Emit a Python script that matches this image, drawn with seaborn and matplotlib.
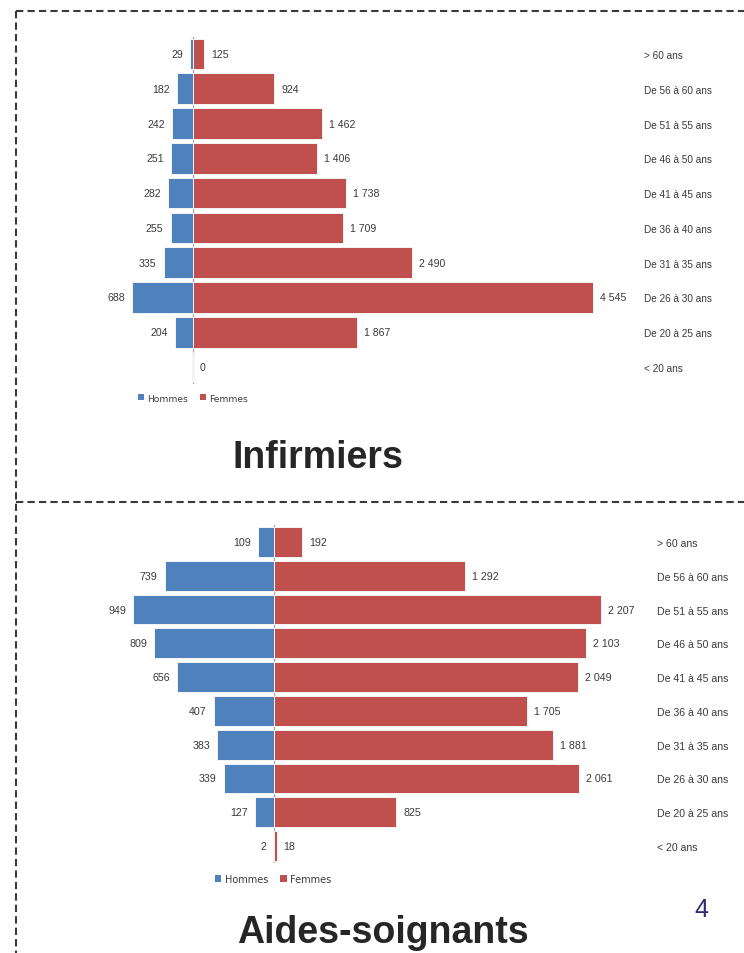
import numpy as np
import pandas as pd
import matplotlib
matplotlib.use("Agg")
import matplotlib.pyplot as plt
from matplotlib.lines import Line2D
from matplotlib.patches import Patch
import seaborn as sns

# ---------------- data ----------------
ages = ["> 60 ans", "De 56 à 60 ans", "De 51 à 55 ans", "De 46 à 50 ans",
        "De 41 à 45 ans", "De 36 à 40 ans", "De 31 à 35 ans", "De 26 à 30 ans",
        "De 20 à 25 ans", "< 20 ans"]
sexes = ["Hommes", "Femmes"]

inf_hommes = [29, 182, 242, 251, 282, 255, 335, 688, 204, None]
inf_femmes = [125, 924, 1462, 1406, 1738, 1709, 2490, 4545, 1867, 0]

as_hommes = [109, 739, 949, 809, 656, 407, 383, 339, 127, 2]
as_femmes = [192, 1292, 2207, 2103, 2049, 1705, 1881, 2061, 825, 18]

titles = ["Infirmiers", "Aides-soignants"]
page_number = "4"

BLUE = "#4F81BD"
RED = "#C0504D"
TXT = "#3a3a3a"

W, H = 744, 954
sns.set_theme(style="white")
plt.rcParams["font.family"] = ["Liberation Sans", "DejaVu Sans"]

fig = plt.figure(figsize=(W / 100, H / 100), dpi=100)


def fig_ax(l, t, r, b):
    return fig.add_axes([l / W, 1 - b / H, (r - l) / W, (b - t) / H])


def fmt(v):
    if v is None:
        return ""
    return f"{int(v):,}".replace(",", " ")


def pyramid(ax, hommes, femmes, xlim, tick_fs, val_fs):
    df = pd.DataFrame({
        "age": ages * 2,
        "sexe": ["Hommes"] * len(ages) + ["Femmes"] * len(ages),
        "val": [-(v if v is not None else 0) for v in hommes] + list(femmes),
    })
    sns.barplot(data=df, y="age", x="val", hue="sexe", hue_order=sexes,
                order=ages, palette=[BLUE, RED], dodge=False, width=0.88,
                orient="h", ax=ax, legend=False, edgecolor="#f4f4f4",
                linewidth=0.7, saturation=1, errorbar=None)
    ax.axvline(0, color="#a6a6a6", lw=0.9, zorder=0.5)
    ax.set_xlim(*xlim)
    ax.set_ylim(len(ages) - 0.5, -0.5)
    for s in ax.spines.values():
        s.set_visible(False)
    ax.set_xticks([])
    ax.set_xlabel("")
    ax.set_ylabel("")
    ax.yaxis.tick_right()
    ax.tick_params(axis="y", length=0, pad=3, labelsize=tick_fs, labelcolor=TXT)
    ax.bar_label(ax.containers[0], labels=[fmt(v) for v in hommes],
                 padding=5, fontsize=val_fs, color=TXT)
    ax.bar_label(ax.containers[1], labels=[fmt(v) for v in femmes],
                 padding=5, fontsize=val_fs, color=TXT)
    ax.set_facecolor("none")


# top chart: zero at x=193 px, 4545 -> 400 px
k1 = 4545 / 400.0
ax1 = fig_ax(100, 37.6, 640, 385.4)
pyramid(ax1, inf_hommes, inf_femmes, (-(193 - 100) * k1, (640 - 193) * k1), 7.2, 7.6)

# bottom chart: zero at x=274 px, 2207 -> 327 px
k2 = 2207 / 327.0
ax2 = fig_ax(100, 526.1, 653, 863.9)
pyramid(ax2, as_hommes, as_femmes, (-(274 - 100) * k2, (653 - 274) * k2), 7.6, 7.7)

# legends
handles = [Patch(facecolor=BLUE, edgecolor="none"), Patch(facecolor=RED, edgecolor="none")]
for cx, cy, fs in [(193, 399, 6.6), (273, 880, 7.0)]:
    fig.legend(handles, sexes, loc="center", bbox_to_anchor=(cx / W, 1 - cy / H),
               ncol=2, frameon=False, handlelength=0.68, handleheight=0.68,
               handletextpad=0.35, columnspacing=1.25, borderpad=0, borderaxespad=0,
               prop={"family": "DejaVu Sans", "size": fs}, labelcolor=TXT)

# titles
fig.text(317.5 / W, 1 - 468 / H, titles[0], ha="center", va="baseline",
         fontsize=27, fontweight="bold", color="#262626")
fig.text(383 / W, 1 - 943 / H, titles[1], ha="center", va="baseline",
         fontsize=27, fontweight="bold", color="#262626")
fig.text(701 / W, 1 - 917 / H, page_number, ha="center", va="baseline",
         fontsize=18, color="#2e2a7a")

# dashed frame
dash = dict(color="#3a3a3a", lw=1.5, dashes=(3.5, 2.0), transform=fig.transFigure)
fig.add_artist(Line2D([16 / W, 1], [1 - 12 / H, 1 - 12 / H], **dash))
fig.add_artist(Line2D([16 / W, 1], [1 - 502.5 / H, 1 - 502.5 / H], **dash))
fig.add_artist(Line2D([16 / W, 16 / W], [1 - 12 / H, 0], **dash))

fig.savefig("out.png", dpi=100)
